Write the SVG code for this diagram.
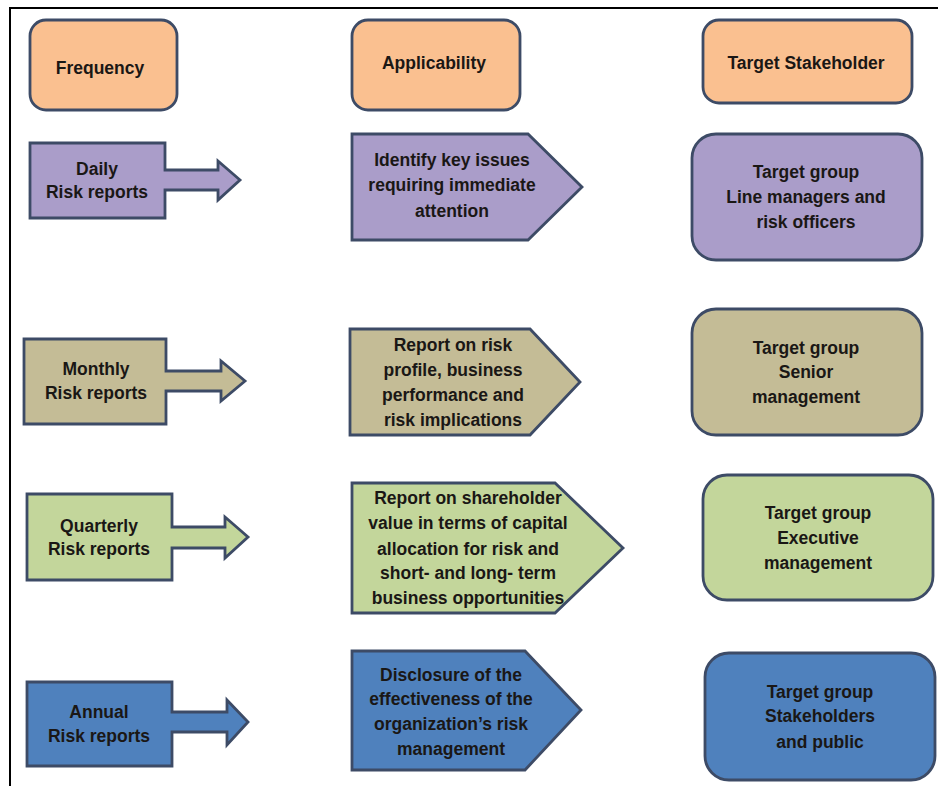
<svg xmlns="http://www.w3.org/2000/svg" width="938" height="786" viewBox="0 0 938 786">
  <style>
    .shape { stroke: #3D4B66; stroke-width: 2.8; stroke-linejoin: miter; }
    .hdr { fill: #FAC090; }
    .daily { fill: #AA9DC9; }
    .monthly { fill: #C4BC96; }
    .quarterly { fill: #C3D69B; }
    .annual { fill: #4F81BD; }
    text { font-family: "Liberation Sans", Arial, sans-serif; font-weight: bold; font-size: 17.5px; fill: #1A1715; text-anchor: middle; }
    .frame { stroke: #000; stroke-width: 2; fill: none; }
  </style>

  <rect x="0" y="0" width="938" height="786" fill="#FFFFFF"/>
  <!-- page frame (top and left edges) -->
  <path class="frame" d="M10,786 V8 H938"/>

  <!-- column headers -->
  <g id="hdr-frequency">
    <rect class="shape hdr" x="30" y="20" width="147" height="90" rx="16"/>
    <text x="100" y="74">Frequency</text>
  </g>
  <g id="hdr-applicability">
    <rect class="shape hdr" x="352" y="20" width="168" height="90" rx="16"/>
    <text x="434" y="69">Applicability</text>
  </g>
  <g id="hdr-stakeholder">
    <rect class="shape hdr" x="703" y="20" width="209" height="83" rx="16"/>
    <text x="806" y="69">Target Stakeholder</text>
  </g>

  <!-- daily row -->
  <g id="freq-daily">
    <path class="shape daily" d="M30,143 H165 V170 H218 V161 L240,180 L218,200 V190 H165 V218 H30 Z"/>
    <text x="97" y="175">Daily</text>
    <text x="97" y="198">Risk reports</text>
  </g>
  <g id="app-daily">
    <path class="shape daily" d="M352,134 H528 L582,187 L528,240 H352 Z"/>
    <text x="452" y="166">Identify key issues</text>
    <text x="452" y="191">requiring immediate</text>
    <text x="452" y="217">attention</text>
  </g>
  <g id="target-daily">
    <rect class="shape daily" x="692" y="134" width="230" height="126" rx="24"/>
    <text x="806" y="178">Target group</text>
    <text x="806" y="203">Line managers and</text>
    <text x="806" y="228">risk officers</text>
  </g>

  <!-- monthly row -->
  <g id="freq-monthly">
    <path class="shape monthly" d="M24,339 H166 V371 H221 V361 L245,381 L221,401 V391 H166 V424 H24 Z"/>
    <text x="96" y="375">Monthly</text>
    <text x="96" y="399">Risk reports</text>
  </g>
  <g id="app-monthly">
    <path class="shape monthly" d="M350,329 H530 L580,382 L530,435 H350 Z"/>
    <text x="453" y="351">Report on risk</text>
    <text x="453" y="376">profile, business</text>
    <text x="453" y="401">performance and</text>
    <text x="453" y="426">risk implications</text>
  </g>
  <g id="target-monthly">
    <rect class="shape monthly" x="692" y="309" width="230" height="126" rx="24"/>
    <text x="806" y="354">Target group</text>
    <text x="806" y="378">Senior</text>
    <text x="806" y="403">management</text>
  </g>

  <!-- quarterly row -->
  <g id="freq-quarterly">
    <path class="shape quarterly" d="M27,494 H172 V527 H225 V517 L248,537 L225,558 V548 H172 V580 H27 Z"/>
    <text x="99" y="532">Quarterly</text>
    <text x="99" y="555">Risk reports</text>
  </g>
  <g id="app-quarterly">
    <path class="shape quarterly" d="M352,483 H555 L623,548 L555,613 H352 Z"/>
    <text x="468" y="504">Report on shareholder</text>
    <text x="468" y="529">value in terms of capital</text>
    <text x="468" y="555">allocation for risk and</text>
    <text x="468" y="579">short- and long- term</text>
    <text x="468" y="604">business opportunities</text>
  </g>
  <g id="target-quarterly">
    <rect class="shape quarterly" x="703" y="475" width="230" height="125" rx="24"/>
    <text x="818" y="519">Target group</text>
    <text x="818" y="544">Executive</text>
    <text x="818" y="569">management</text>
  </g>

  <!-- annual row -->
  <g id="freq-annual">
    <path class="shape annual" d="M27,682 H172 V712 H227 V700 L248,722 L227,745 V732 H172 V766 H27 Z"/>
    <text x="99" y="718">Annual</text>
    <text x="99" y="742">Risk reports</text>
  </g>
  <g id="app-annual">
    <path class="shape annual" d="M352,651 H525 L581,710 L525,770 H352 Z"/>
    <text x="451" y="681">Disclosure of the</text>
    <text x="451" y="705">effectiveness of the</text>
    <text x="451" y="730">organization’s risk</text>
    <text x="451" y="755">management</text>
  </g>
  <g id="target-annual">
    <rect class="shape annual" x="705" y="653" width="230" height="127" rx="24"/>
    <text x="820" y="698">Target group</text>
    <text x="820" y="722">Stakeholders</text>
    <text x="820" y="748">and public</text>
  </g>
</svg>
